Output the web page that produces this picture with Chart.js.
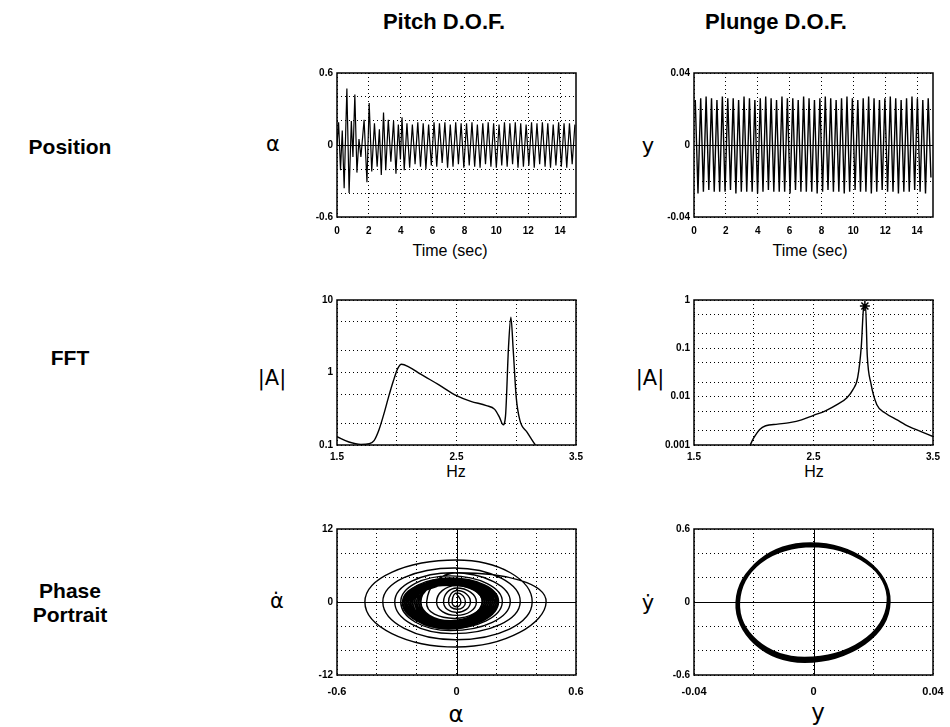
<!DOCTYPE html>
<html>
<head>
<meta charset="utf-8">
<script src="https://cdn.jsdelivr.net/npm/chart.js@4.4.1/dist/chart.umd.min.js"></script>
<style>
  html, body { margin: 0; padding: 0; background: #fff; }
  body { width: 950px; height: 727px; position: relative; overflow: hidden; font-family: "Liberation Sans", Arial, sans-serif; color: #000; }
  .lbl { position: absolute; white-space: nowrap; transform: translate(-50%, -50%); line-height: 1; }
  .head { font-weight: bold; font-size: 22px; }
  .row { font-weight: bold; font-size: 21px; text-align: center; line-height: 1.15; }
  .sym { font-family: "DejaVu Sans", sans-serif; font-size: 21px; }
  .axt { font-size: 16px; }
  .axs { font-family: "DejaVu Sans", sans-serif; font-size: 23px; }
</style>
</head>
<body>

<div class="lbl head" style="left:444px; top:22px;">Pitch D.O.F.</div>
<div class="lbl head" style="left:776px; top:22px;">Plunge D.O.F.</div>

<div class="lbl row" style="left:70px; top:147px;">Position</div>
<div class="lbl row" style="left:70px; top:358px;">FFT</div>
<div class="lbl row" style="left:70px; top:603px;">Phase<br>Portrait</div>

<div class="lbl sym" style="left:273px; top:144px;">α</div>
<div class="lbl sym" style="left:648px; top:146px;">y</div>
<div class="lbl sym" style="left:272px; top:378px;">|A|</div>
<div class="lbl sym" style="left:650px; top:378px;">|A|</div>
<div class="lbl sym" style="left:277px; top:601px;">α̇</div>
<div class="lbl sym" style="left:648px; top:603px;">ẏ</div>

<div class="lbl axt" style="left:450px; top:251px;">Time (sec)</div>
<div class="lbl axt" style="left:810px; top:251px;">Time (sec)</div>
<div class="lbl axt" style="left:456px; top:472px;">Hz</div>
<div class="lbl axt" style="left:814px; top:472px;">Hz</div>
<div class="lbl axs" style="left:456px; top:714px;">α</div>
<div class="lbl axs" style="left:818px; top:712px;">y</div>

<script>
// ---------------- DATA ----------------
// Pitch position: successive extremes of alpha (rad) and their times (s)
const pitchTime = [0.00,0.10,0.22,0.33,0.45,0.62,0.76,0.90,1.00,1.12,1.25,1.38,1.50,1.70,1.88,2.02,2.18,2.35,2.52,2.66,
  2.78,2.92,3.06,3.22,3.38,3.55,3.70,3.85,3.98,4.08,4.22,4.39,4.56,4.73,4.90,5.07,5.24,5.41,5.58,5.75,
  5.92,6.09,6.26,6.43,6.60,6.77,6.94,7.11,7.28,7.45,7.62,7.79,7.96,8.13,8.30,8.47,8.64,8.81,8.98,9.15,
  9.32,9.49,9.66,9.83,10.00,10.17,10.34,10.51,10.68,10.85,11.02,11.19,11.36,11.53,11.70,11.87,12.04,12.21,12.38,12.55,
  12.72,12.89,13.06,13.23,13.40,13.57,13.74,13.91,14.08,14.25,14.42,14.59,14.76,14.93];
const pitchAlpha = [0.00,0.19,-0.21,0.12,-0.36,0.47,-0.40,0.20,-0.10,0.42,-0.23,0.05,-0.10,0.21,-0.31,0.35,-0.22,0.18,-0.18,0.13,
  -0.25,0.27,-0.21,0.21,-0.14,0.20,-0.24,0.17,-0.12,0.23,-0.21,0.18,-0.19,0.17,-0.16,0.19,-0.18,0.18,-0.20,0.17,
  -0.17,0.19,-0.18,0.18,-0.15,0.19,-0.19,0.17,-0.18,0.19,-0.16,0.18,-0.19,0.18,-0.17,0.19,-0.18,0.17,-0.19,0.18,
  -0.16,0.19,-0.18,0.18,-0.19,0.17,-0.17,0.19,-0.18,0.18,-0.16,0.19,-0.19,0.18,-0.18,0.17,-0.17,0.19,-0.19,0.18,
  -0.16,0.19,-0.18,0.18,-0.19,0.17,-0.17,0.19,-0.18,0.18,-0.19,0.18,-0.16,0.17];

// Plunge position: successive extremes of y (m) and their times (s)
const plungeTime = [0.08,0.25,0.42,0.59,0.76,0.93,1.10,1.27,1.44,1.61,1.78,1.95,2.12,2.29,2.46,2.63,2.80,2.97,3.14,3.31,
  3.48,3.65,3.82,3.99,4.16,4.33,4.50,4.67,4.84,5.01,5.18,5.35,5.52,5.69,5.86,6.03,6.20,6.37,6.54,6.71,
  6.88,7.05,7.22,7.39,7.56,7.73,7.90,8.07,8.24,8.41,8.58,8.75,8.92,9.09,9.26,9.43,9.60,9.77,9.94,10.11,
  10.28,10.45,10.62,10.79,10.96,11.13,11.30,11.47,11.64,11.81,11.98,12.15,12.32,12.49,12.66,12.83,13.00,13.17,13.34,13.51,
  13.68,13.85,14.02,14.19,14.36,14.53,14.70,14.87];
const plungeY = [0.025,-0.027,0.026,-0.026,0.027,-0.025,0.026,-0.026,0.025,-0.026,0.027,-0.026,0.026,-0.025,0.026,-0.027,0.025,-0.026,0.027,-0.026,
  0.026,-0.026,0.025,-0.027,0.026,-0.026,0.027,-0.025,0.026,-0.026,0.025,-0.026,0.027,-0.026,0.026,-0.027,0.026,-0.025,0.025,-0.026,
  0.027,-0.026,0.026,-0.026,0.025,-0.027,0.026,-0.026,0.027,-0.025,0.026,-0.026,0.025,-0.026,0.026,-0.027,0.027,-0.026,0.026,-0.025,
  0.025,-0.026,0.026,-0.026,0.027,-0.027,0.026,-0.026,0.025,-0.025,0.026,-0.026,0.027,-0.026,0.026,-0.027,0.025,-0.026,0.026,-0.026,
  0.027,-0.025,0.026,-0.026,0.025,-0.027,0.026,-0.018];

// FFT of pitch: frequency (Hz) and amplitude |A|
const pitchFftHz = [1.50,1.60,1.70,1.77,1.81,1.85,1.89,1.93,1.97,2.01,2.04,2.10,2.20,2.35,2.50,2.62,2.75,2.82,2.86,2.89,
  2.91,2.935,2.955,2.975,3.00,3.03,3.09,3.16];
const pitchFftA = [0.13,0.11,0.102,0.104,0.115,0.16,0.26,0.45,0.75,1.15,1.3,1.2,0.95,0.68,0.48,0.40,0.35,0.31,0.24,0.19,
  0.25,2.2,5.8,2.0,0.45,0.22,0.15,0.10];

// FFT of plunge
const plungeFftHz = [1.97,2.00,2.05,2.10,2.20,2.30,2.40,2.50,2.60,2.70,2.78,2.83,2.87,2.90,2.92,2.935,2.95,2.98,3.03,3.10,
  3.20,3.30,3.40,3.50];
const plungeFftA = [0.001,0.0014,0.0021,0.0025,0.0027,0.0029,0.0033,0.0041,0.0051,0.0069,0.0095,0.014,0.025,0.11,0.72,0.8,0.07,0.019,0.0068,0.0046,
  0.0033,0.0024,0.0019,0.0015];
const plungePeakHz = [2.93];
const plungePeakA = [0.75];

// Phase portrait of pitch: alpha (rad) and alpha-dot (rad/s), turning points of the spiral
const pitchPhaseAlpha = [0.000,0.022,0.000,-0.022, 0.004,0.045,0.004,-0.040, 0.004,0.070,0.002,-0.065, 0.002,0.100,0.000,-0.100,
  0.000,0.130,-0.010,-0.150, 0.010,0.450,0.000,-0.460, 0.000,0.380,-0.005,-0.370, -0.010,0.320,-0.020,-0.310,
  -0.020,0.270,-0.030,-0.280, -0.030,0.230,-0.040,-0.260,
  -0.03,0.21,-0.04,-0.27, -0.03,0.19,-0.04,-0.24, -0.03,0.20,-0.04,-0.26, -0.03,0.17,-0.04,-0.22,
  -0.03,0.18,-0.04,-0.25, -0.02,0.15,-0.03,-0.20, -0.03,0.20,-0.04,-0.26, -0.03,0.16,-0.04,-0.23,
  -0.03,0.21,-0.04,-0.27, -0.02,0.13,-0.03,-0.18, -0.03,0.18,-0.04,-0.24, -0.03,0.19,-0.04,-0.25,
  -0.02,0.15,-0.03,-0.21, -0.03,0.20,-0.04,-0.26, -0.03,0.17,-0.04,-0.23, -0.02,0.14,-0.03,-0.19,
  -0.03,0.19,-0.04,-0.25, -0.03,0.20,-0.04,-0.25, -0.03,0.16,-0.04,-0.22, -0.03,0.18,-0.04,-0.24,
  -0.03,0.18,-0.04,-0.23, -0.03,0.21,-0.04,-0.26, -0.03,0.19,-0.04,-0.24, -0.03,0.17,-0.04,-0.25,
  -0.03,0.20,-0.04,-0.27, -0.02,0.14,-0.03,-0.20, -0.03,0.19,-0.04,-0.26, -0.03,0.18,-0.04,-0.23,
  -0.03];
const pitchPhaseRate = [1.4,0,-0.8,0, 1.5,0,-1.2,0, 1.9,0,-1.7,0, 2.3,0,-2.2,0,
  2.7,0,-2.7,0, 4.8,0,-7.4,0, 6.9,0,-6.2,0, 5.6,0,-5.2,0,
  4.8,0,-4.7,0, 4.3,0,-4.4,0,
  3.9,0,-4.3,0, 3.6,0,-4.0,0, 3.8,0,-4.2,0, 3.3,0,-3.7,0,
  3.5,0,-3.9,0, 3.0,0,-3.3,0, 3.7,0,-4.1,0, 3.2,0,-3.6,0,
  3.9,0,-4.3,0, 2.8,0,-3.1,0, 3.4,0,-3.8,0, 3.6,0,-4.0,0,
  3.1,0,-3.4,0, 3.8,0,-4.2,0, 3.3,0,-3.7,0, 2.9,0,-3.2,0,
  3.5,0,-3.9,0, 3.7,0,-4.1,0, 3.2,0,-3.5,0, 3.6,0,-4.0,0,
  3.4,0,-3.8,0, 3.8,0,-4.2,0, 3.5,0,-3.9,0, 3.4,0,-4.1,0,
  3.7,0,-4.4,0, 3.0,0,-3.5,0, 3.6,0,-4.2,0, 3.5,0,-3.8,0,
  3.6];
const pitchDenseStart = 40; // index where the limit-cycle loops begin

// Phase portrait of plunge: y (m) and y-dot (m/s), turning points of the loops
const plungePhaseY = [-0.0253, -0.001,0.0252,-0.003,-0.0255, 0.000,0.0250,-0.003,-0.0252, -0.001,0.0254,-0.002,-0.0257,
  0.000,0.0249,-0.003,-0.0250, -0.001,0.0253,-0.003,-0.0256, 0.000,0.0251,-0.002,-0.0253, -0.001, 0.0252];
const plungePhaseRate = [0, 0.47,0,-0.48,0, 0.46,0,-0.47,0, 0.48,0,-0.48,0,
  0.47,0,-0.46,0, 0.46,0,-0.49,0, 0.47,0,-0.47,0, 0.47, 0];

// Axis ticks (grid positions) and which of them carry labels
const timeGrid = [0,2,4,6,8,10,12,14];
const timeLabels = [0,2,4,6,8,10,12,14];
const pitchPosGrid = [-0.6,-0.4,-0.2,0,0.2,0.4,0.6];
const pitchPosLabels = [-0.6,0,0.6];
const plungePosGrid = [-0.04,-0.02,0,0.02,0.04];
const plungePosLabels = [-0.04,0,0.04];
const hzGrid = [1.5,2,2.5,3,3.5];
const hzLabels = [1.5,2.5,3.5];
const pitchFftGrid = [0.1,0.2,0.5,1,2,5,10];
const pitchFftLabels = [0.1,1,10];
const plungeFftGrid = [0.001,0.002,0.005,0.01,0.02,0.05,0.1,0.2,0.5,1];
const plungeFftLabels = [0.001,0.01,0.1,1];
const pitchPhXGrid = [-0.6,-0.4,-0.2,0,0.2,0.4,0.6];
const pitchPhXLabels = [-0.6,0,0.6];
const pitchPhYGrid = [-12,-8,-4,0,4,8,12];
const pitchPhYLabels = [-12,0,12];
const plungePhXGrid = [-0.04,-0.02,0,0.02,0.04];
const plungePhXLabels = [-0.04,0,0.04];
const plungePhYGrid = [-0.6,-0.4,-0.2,0,0.2,0.4,0.6];
const plungePhYLabels = [-0.6,0,0.6];

// ---------------- LAYOUT / STYLE ----------------
Chart.defaults.font.family = "'Liberation Sans', Arial, sans-serif";
Chart.defaults.font.size = 10;
Chart.defaults.color = '#000';

const PADL = 50, PADT = 12, PADR = 22, PADB = 24;

const frame = {
  id: 'frame',
  afterDatasetsDraw(chart, args, opts) {
    const { ctx, chartArea: a, scales } = chart;
    ctx.save();
    ctx.strokeStyle = '#000';
    ctx.lineWidth = 1;
    ctx.setLineDash([]);
    if (opts.zeroX) {
      const x = Math.round(scales.x.getPixelForValue(0)) + 0.5;
      ctx.beginPath(); ctx.moveTo(x, a.top); ctx.lineTo(x, a.bottom); ctx.stroke();
    }
    if (opts.zeroY) {
      const y = Math.round(scales.y.getPixelForValue(0)) + 0.5;
      ctx.beginPath(); ctx.moveTo(a.left, y); ctx.lineTo(a.right, y); ctx.stroke();
    }
    ctx.lineWidth = 1.5;
    ctx.strokeRect(a.left, a.top, a.right - a.left, a.bottom - a.top);
    ctx.restore();
  }
};

function axis(position, s) {
  const horizontal = position === 'bottom';
  return {
    type: s.type || 'linear',
    position,
    min: s.min, max: s.max,
    afterBuildTicks: ax => { ax.ticks = s.grid.map(v => ({ value: v })); },
    afterFit: ax => { if (horizontal) ax.height = PADB; else ax.width = PADL; },
    grid: { color: '#000', lineWidth: 1, drawTicks: false },
    border: { display: false, dash: [1, 3] },
    ticks: {
      autoSkip: false, maxRotation: 0, minRotation: 0,
      padding: s.pad || 4, color: '#000',
      font: { size: s.fs || 10, weight: 'bold' },
      callback: v => (s.labels.indexOf(v) >= 0 ? String(v) : '')
    }
  };
}

function series(xs, ys, extra) {
  return Object.assign({
    data: xs.map((x, i) => ({ x, y: ys[i] })),
    showLine: true, borderColor: '#000', backgroundColor: '#000',
    borderWidth: 1, pointRadius: 0, tension: 0, fill: false
  }, extra || {});
}

function makeChart(r, datasets, xs, ys, zero) {
  const W = PADL + r.w + PADR, H = PADT + r.h + PADB;
  const wrap = document.createElement('div');
  wrap.style.cssText = `position:absolute;left:${r.l - PADL}px;top:${r.t - PADT}px;width:${W}px;height:${H}px;`;
  const c = document.createElement('canvas');
  c.width = W; c.height = H;
  c.style.width = W + 'px'; c.style.height = H + 'px';
  wrap.appendChild(c);
  document.body.appendChild(wrap);
  return new Chart(c, {
    type: 'scatter',
    data: { datasets },
    options: {
      responsive: false, animation: false, events: [],
      layout: { padding: { top: PADT, right: PADR, left: 0, bottom: 0 } },
      scales: { x: axis('bottom', xs), y: axis('left', ys) },
      plugins: { legend: { display: false }, tooltip: { enabled: false }, frame: zero }
    },
    plugins: [frame]
  });
}

const COL = [{ l: 337, w: 239 }, { l: 694, w: 239 }];
const ROW = [{ t: 73, h: 144 }, { t: 300, h: 145 }, { t: 529, h: 146 }];
const R = (c, r) => ({ l: COL[c].l, w: COL[c].w, t: ROW[r].t, h: ROW[r].h });

// Row 1: position
makeChart(R(0, 0), [series(pitchTime, pitchAlpha, { borderWidth: 1.2 })],
  { min: 0, max: 15, grid: timeGrid, labels: timeLabels, pad: 8 },
  { min: -0.6, max: 0.6, grid: pitchPosGrid, labels: pitchPosLabels },
  { zeroY: true });
makeChart(R(1, 0), [series(plungeTime, plungeY, { borderWidth: 1.4 })],
  { min: 0, max: 15, grid: timeGrid, labels: timeLabels, pad: 8 },
  { min: -0.04, max: 0.04, grid: plungePosGrid, labels: plungePosLabels },
  { zeroY: true });

// Row 2: FFT (log amplitude)
makeChart(R(0, 1), [series(pitchFftHz, pitchFftA, { cubicInterpolationMode: 'monotone', borderWidth: 1.4 })],
  { min: 1.5, max: 3.5, grid: hzGrid, labels: hzLabels, pad: 6 },
  { type: 'logarithmic', min: 0.1, max: 10, grid: pitchFftGrid, labels: pitchFftLabels },
  {});
makeChart(R(1, 1), [
    series(plungeFftHz, plungeFftA, { cubicInterpolationMode: 'monotone', borderWidth: 1.4 }),
    series(plungePeakHz, plungePeakA, { showLine: false, pointStyle: 'star', pointRadius: 5, borderWidth: 1.5 })
  ],
  { min: 1.5, max: 3.5, grid: hzGrid, labels: hzLabels, pad: 6 },
  { type: 'logarithmic', min: 0.001, max: 1, grid: plungeFftGrid, labels: plungeFftLabels },
  {});

// Row 3: phase portraits
makeChart(R(0, 2), [series(pitchPhaseAlpha, pitchPhaseRate, {
    tension: 0.55, borderWidth: 1.4,
    segment: { borderWidth: c => (c.p0DataIndex >= pitchDenseStart ? 1.9 : 1.4) }
  })],
  { min: -0.6, max: 0.6, grid: pitchPhXGrid, labels: pitchPhXLabels, pad: 10, fs: 11 },
  { min: -12, max: 12, grid: pitchPhYGrid, labels: pitchPhYLabels },
  { zeroX: true, zeroY: true });
const lastPlunge = plungePhaseY.length - 1;
makeChart(R(1, 2), [series(plungePhaseY, plungePhaseRate, {
    tension: 0.55, borderWidth: 2.6,
    segment: { borderColor: c => (c.p0DataIndex === 0 || c.p1DataIndex === lastPlunge) ? 'rgba(0,0,0,0)' : '#000' }
  })],
  { min: -0.04, max: 0.04, grid: plungePhXGrid, labels: plungePhXLabels, pad: 10, fs: 11 },
  { min: -0.6, max: 0.6, grid: plungePhYGrid, labels: plungePhYLabels },
  { zeroX: true, zeroY: true });
</script>
</body>
</html>
